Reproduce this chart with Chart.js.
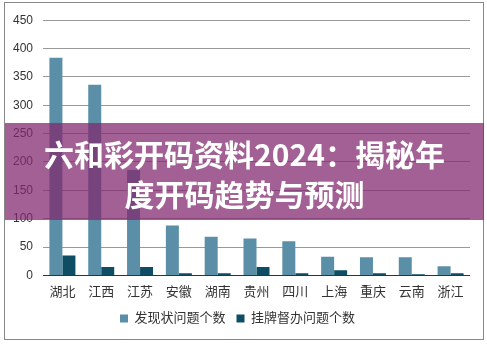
<!DOCTYPE html>
<html>
<head>
<meta charset="utf-8">
<script src="https://cdn.jsdelivr.net/npm/chart.js@4"></script>
<style>
  body { margin: 0; background: #fff; width: 487px; height: 344px; overflow: hidden; position: relative; }
  #box { position: absolute; left: 4px; top: 2px; width: 478px; height: 336px; border: 1px solid #888; }
  #banner { position: absolute; left: 5px; top: 123px; width: 479px; height: 97px;
    background: rgba(130, 40, 110, 0.74); color: #fff; text-align: center;
    font-family: "Noto Sans CJK SC", sans-serif; font-weight: bold; font-size: 30px; line-height: 40px;
    padding-top: 10px; box-sizing: border-box; }
</style>
</head>
<body>
<div id="box"><canvas id="myChart" width="478" height="336"></canvas></div>
<div id="banner">六和彩开码资料2024：揭秘年<br>度开码趋势与预测</div>
<script>
var provinces = ['湖北', '江西', '江苏', '安徽', '湖南', '贵州', '四川', '上海', '重庆', '云南', '浙江'];
var found = [384, 336, 186, 88, 68, 65, 60, 33, 32, 32, 16];
var supervised = [35, 15, 15, 4, 4, 15, 4, 9, 4, 2, 4];
var seriesNames = ['发现状问题个数', '挂牌督办问题个数'];

var fontFam = '"Liberation Sans", "Noto Sans CJK SC", sans-serif';
var ctx = document.getElementById('myChart');
var myChart = new Chart(ctx, {
    type: 'bar',
    data: {
        labels: provinces,
        datasets: [{
            label: seriesNames[0],
            data: found,
            backgroundColor: '#5b8fa7',
            categoryPercentage: 0.67,
            barPercentage: 1
        }, {
            label: seriesNames[1],
            data: supervised,
            backgroundColor: '#0e4d64',
            categoryPercentage: 0.67,
            barPercentage: 1
        }]
    },
    options: {
        responsive: false,
        animation: false,
        layout: { padding: { left: 0, right: 13, top: 14, bottom: 4 } },
        plugins: {
            legend: {
                position: 'bottom',
                labels: {
                    boxWidth: 8, boxHeight: 8, padding: 11,
                    color: '#333', font: { family: fontFam, size: 13 }
                }
            },
            tooltip: { enabled: false }
        },
        scales: {
            x: {
                grid: { display: false },
                border: { display: false },
                ticks: { color: '#333', padding: 1, font: { family: fontFam, size: 13 } }
            },
            y: {
                min: 0, max: 450,
                ticks: { stepSize: 50, color: '#333', padding: 10, font: { family: fontFam, size: 12 } },
                grid: {
                    drawTicks: false,
                    color: function(c) { return c.tick.value === 0 ? '#333' : '#999'; }
                },
                border: { display: false },
                afterFit: function(scale) { scale.width = 38; }
            }
        }
    }
});
</script>
</body>
</html>
